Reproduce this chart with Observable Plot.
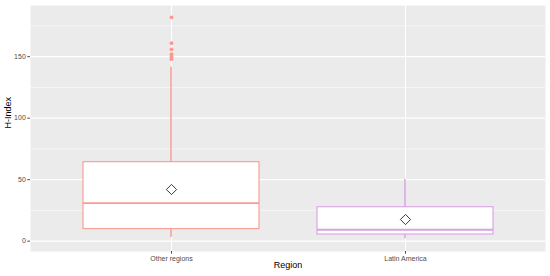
<!DOCTYPE html>
<html>
<head>
<meta charset="utf-8">
<script src="https://cdn.jsdelivr.net/npm/d3@7"></script>
<script src="https://cdn.jsdelivr.net/npm/@observablehq/plot@0.6"></script>
<style>
  html, body { margin: 0; padding: 0; background: #fff; }
</style>
</head>
<body>
<div id="chart"></div>
<script>
const categories = ["Other regions", "Latin America"];
const whiskerLow = [3, 2];
const q1 = [9.8, 5.4];
const median = [31, 9.3];
const q3 = [64.2, 27.6];
const whiskerHigh = [141.5, 50.2];
const means = [42, 17.6];
const colors = ["#F99A92", "#D9A0E4"];
const outlierRegion = ["Other regions", "Other regions", "Other regions", "Other regions", "Other regions", "Other regions", "Other regions"];
const outlierValue = [182, 161, 156, 152, 150, 149, 148];
const yTicks = [0, 50, 100, 150];
const yMinor = [25, 75, 125, 175];

const rows = categories.map((c, i) => ({
  region: c, lo: whiskerLow[i], q1: q1[i], median: median[i], q3: q3[i], hi: whiskerHigh[i], mean: means[i]
}));
const outliers = outlierRegion.map((r, i) => ({region: r, value: outlierValue[i]}));

const boxMarks = categories.flatMap((c, i) => {
  const d = rows.filter(r => r.region === c);
  const col = colors[i];
  return [
    Plot.barY(d, {x: "region", y1: "lo", y2: "hi", fill: col, insetLeft: 87.25, insetRight: 87.25}),
    Plot.barY(d, {x: "region", y1: "q1", y2: "q3", fill: "white", stroke: col, strokeWidth: 1.1}),
    Plot.tickY(d, {x: "region", y: "median", stroke: col, strokeWidth: 1.8}),
    Plot.dot(outliers.filter(o => o.region === c), {x: "region", y: "value", fill: col, r: 1.9, stroke: null})
  ];
});

const chart = Plot.plot({
  width: 550,
  height: 276,
  marginLeft: 30,
  marginRight: 5,
  marginTop: 5,
  marginBottom: 25,
  style: {fontFamily: "'Liberation Sans', Arial, sans-serif", background: "#fff"},
  x: {type: "band", domain: categories, paddingInner: 0.25, paddingOuter: 0.225},
  y: {domain: [-8.4, 191.6]},
  marks: [
    Plot.frame({fill: "#EBEBEB", stroke: null}),
    Plot.gridY(yMinor, {stroke: "white", strokeOpacity: 1, strokeWidth: 0.55}),
    Plot.gridY(yTicks, {stroke: "white", strokeOpacity: 1, strokeWidth: 1.1}),
    Plot.gridX(categories, {stroke: "white", strokeOpacity: 1, strokeWidth: 1.1}),
    ...boxMarks,
    Plot.dot(rows, {x: "region", y: "mean", symbol: "diamond2", r: 4.6, stroke: "#222", fill: "white", strokeWidth: 0.9}),
    Plot.axisX({tickSize: 2.7, tickPadding: 2, fontSize: 7, color: "#4D4D4D", label: null}),
    Plot.axisY({ticks: yTicks, tickSize: 2.7, tickPadding: 2, fontSize: 7, color: "#4D4D4D", label: null}),
    Plot.text(["H-Index"], {frameAnchor: "left", rotate: -90, dx: -22, fontSize: 9, fill: "black"}),
    Plot.text(["Region"], {frameAnchor: "bottom", dy: 16, fontSize: 9, fill: "black"})
  ]
});
document.getElementById("chart").appendChild(chart);
</script>
</body>
</html>
